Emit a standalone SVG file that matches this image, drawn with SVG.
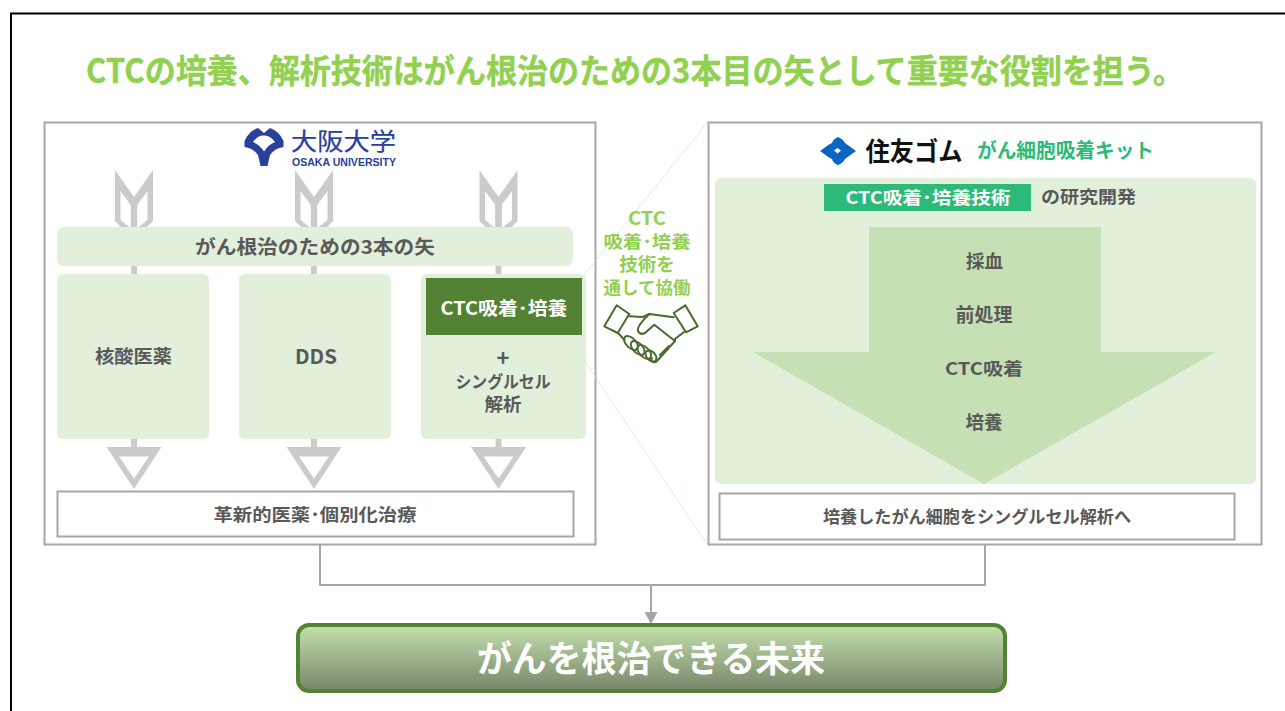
<svg xmlns="http://www.w3.org/2000/svg" width="1285" height="711" viewBox="0 0 1285 711">
<style>
text{font-family:"Noto Sans CJK JP","Noto Sans",sans-serif;font-weight:700;text-anchor:middle}
.d{fill:#595959}
.panel{fill:#fff;stroke:#a6a6a6;stroke-width:2}
.box{fill:#fff;stroke:#a6a6a6;stroke-width:2}
.lg{fill:#e2efda}
.tailbar{fill:#cbcbcb}
.conn{fill:none;stroke:#a6a6a6;stroke-width:2}
.zoomline{fill:none;stroke:#bfe8db;stroke-width:1;stroke-dasharray:2 1}
.hs{fill:none;stroke:#49692f;stroke-width:2;stroke-linejoin:round;stroke-linecap:round}
</style>
<defs>
<g id="arrowshaft">
<path class="tailbar" fill-rule="evenodd" d="M115 170L134 197L153 170V221L146 228H122L115 221ZM120.500 191V220L130.800 228V205ZM147.500 191L137.200 205V228L147.500 220Z"/>
<rect class="tailbar" x="131" y="205" width="6" height="69"/>
<rect class="tailbar" x="131" y="439" width="6" height="9"/>
<path class="tailbar" fill-rule="evenodd" d="M106.500 447H161.500L134 489ZM119 456.500L134 478.500L149 456.500Z"/>
</g>
</defs>
<rect width="1285" height="711" fill="#fff"/>
<path d="M11 711V13.500H1285" fill="none" stroke="#000" stroke-width="2"/>
<text id="title" x="635" y="83" font-size="33" fill="#92d050" stroke="#92d050" stroke-width="0.4" textLength="1098" lengthAdjust="spacingAndGlyphs">CTCの培養、解析技術はがん根治のための3本目の矢として重要な役割を担う。</text>

<g id="connectors">
<path class="conn" d="M320 545V585H985V545"/>
<path class="conn" d="M651 585V612"/>
<path d="M644.500 612H657.500L651 624Z" fill="#a6a6a6"/>
</g>

<g id="osaka-panel">
<rect class="panel" x="44.500" y="122.500" width="551" height="422"/>
<g id="osaka-logo">
<path fill-rule="evenodd" fill="#2b409b" d="M244.500 141Q249 131 258 128L264 133L270 128Q279 131 283.500 141V147Q275 148 270 155L267.500 166H260.500L258 155Q253 148 244.500 147ZM253 142Q258 135 264 135.500Q270 135 275 142Q268 145 264 151.500Q260 145 253 142Z"/>
<text x="343.500" y="149.500" font-size="24" fill="#2b409b" style="font-weight:400" stroke="#2b409b" stroke-width="0.2" textLength="105" lengthAdjust="spacingAndGlyphs">大阪大学</text>
<text x="344" y="165.500" font-size="11.500" fill="#2b409b" style="font-family:'Liberation Sans',sans-serif;font-weight:700" textLength="104" lengthAdjust="spacingAndGlyphs">OSAKA UNIVERSITY</text>
</g>
<use href="#arrowshaft"/>
<use href="#arrowshaft" x="180"/>
<use href="#arrowshaft" x="364.500"/>
</g>
<g id="arrows-bar">
<rect class="lg" x="57" y="227" width="516" height="39" rx="7"/>
<text class="d" x="315" y="254" font-size="19" textLength="240" lengthAdjust="spacingAndGlyphs">がん根治のための3本の矢</text>
</g>
<g id="node-nucleic">
<rect class="lg" x="57" y="274" width="152" height="165" rx="6"/>
<text class="d" x="133.500" y="363" font-size="18" textLength="77" lengthAdjust="spacingAndGlyphs">核酸医薬</text>
</g>
<g id="node-dds">
<rect class="lg" x="239" y="274" width="152" height="165" rx="6"/>
<text class="d" x="316" y="363.500" font-size="20" textLength="42" lengthAdjust="spacingAndGlyphs">DDS</text>
</g>
<g id="node-ctc">
<rect class="lg" x="421" y="274" width="165" height="165" rx="6"/>
<rect x="426" y="278" width="156" height="57" fill="#548235"/>
<text x="504" y="315" font-size="18.500" fill="#fff" textLength="127" lengthAdjust="spacingAndGlyphs">CTC吸着･培養</text>
<text class="d" x="503" y="366" font-size="22">+</text>
<text class="d" x="503" y="388" font-size="17" textLength="95" lengthAdjust="spacingAndGlyphs">シングルセル</text>
<text class="d" x="503" y="410.500" font-size="18.500">解析</text>
</g>
<g id="node-innovative">
<rect class="box" x="57.500" y="491.500" width="516" height="45"/>
<text class="d" x="315" y="521" font-size="17.500" textLength="203" lengthAdjust="spacingAndGlyphs">革新的医薬･個別化治療</text>
</g>

<g id="zoom-lines">
<path class="zoomline" d="M584 275L708 122"/>
<path class="zoomline" d="M584 360L707 544"/>
</g>

<g id="cooperate">
<text x="647" y="225" font-size="18" fill="#92d050" textLength="38" lengthAdjust="spacingAndGlyphs">CTC</text>
<text x="647" y="248" font-size="17.500" fill="#92d050" textLength="87" lengthAdjust="spacingAndGlyphs">吸着･培養</text>
<text x="647" y="271" font-size="18.500" fill="#92d050">技術を</text>
<text x="647" y="294" font-size="17.500" fill="#92d050" textLength="87" lengthAdjust="spacingAndGlyphs">通して協働</text>
<g id="handshake" class="hs">
<path d="M604.300 326.300L616.700 305.300L629.300 314L617.700 333Z"/>
<path d="M673.700 313L685.300 305.300L697.700 326.300L686 332.300Z"/>
<path d="M629.300 316.300L642.700 317L649.300 314L673.700 317.300"/>
<path d="M649.300 314C641 322 637 328 638 331C640 335 643 334 645 333L654.300 324.700L675 341"/>
<path d="M684 332L675 339V341L657 361C654 364 650 361 652 358"/>
<path d="M664 351L660 355M669 346L664 351"/>
<path d="M618 333L624.500 340"/>
<ellipse cx="631" cy="343" rx="8.500" ry="4.800" transform="rotate(45 631 343)"/>
<ellipse cx="637.700" cy="348" rx="8.500" ry="4.800" transform="rotate(45 637.700 348)"/>
<ellipse cx="644.300" cy="352" rx="8.500" ry="4.800" transform="rotate(45 644.300 352)"/>
<ellipse cx="651" cy="356" rx="6.500" ry="4.300" transform="rotate(45 651 356)"/>
</g>
</g>

<g id="sumitomo-panel">
<rect class="panel" x="708.500" y="122.500" width="553" height="422"/>
<g id="sumitomo-logo">
<path d="M820 151L829 144.500L832 143Q833 139 838 137Q843 139 845 143L847 144.500L856 151L847 157.500L845 159Q843 163 838 165Q833 163 832 159L829 157.500Z" fill="#0b66c3"/>
<path d="M837.500 148L841 150.500L837.500 153.500L834 150.500Z" fill="#fff"/>
<text x="914" y="161" font-size="26" fill="#111" textLength="97" lengthAdjust="spacingAndGlyphs">住友ゴム</text>
<text x="1065.500" y="158" font-size="20" fill="#2dba78" textLength="177" lengthAdjust="spacingAndGlyphs">がん細胞吸着キット</text>
</g>
<rect class="lg" x="715" y="178" width="541" height="306" rx="6"/>
<rect x="824" y="184" width="207" height="27" fill="#2dba78"/>
<text x="928" y="203.500" font-size="17.500" fill="#fff" textLength="165" lengthAdjust="spacingAndGlyphs">CTC吸着･培養技術</text>
<text class="d" x="1088.500" y="203" font-size="17.500" textLength="95" lengthAdjust="spacingAndGlyphs">の研究開発</text>
<path d="M869 227H1101V352H1216L984 484L753 352H869Z" fill="#c5e0b4"/>
<text class="d" x="984.500" y="268" font-size="18.500">採血</text>
<text class="d" x="984" y="321.500" font-size="19">前処理</text>
<text class="d" x="984" y="375" font-size="17.500" textLength="78" lengthAdjust="spacingAndGlyphs">CTC吸着</text>
<text class="d" x="984" y="429" font-size="18.500">培養</text>
</g>
<g id="node-singlecell">
<rect class="box" x="719.500" y="493.500" width="515" height="46"/>
<text class="d" x="977" y="523" font-size="17.500" textLength="308" lengthAdjust="spacingAndGlyphs">培養したがん細胞をシングルセル解析へ</text>
</g>

<g id="node-future">
<rect x="298" y="625" width="707" height="66" rx="11" fill="url(#g)" stroke="#548235" stroke-width="4"/>
<text x="651" y="672" font-size="36" fill="#fff" textLength="348" lengthAdjust="spacingAndGlyphs">がんを根治できる未来</text>
</g>
<defs><linearGradient id="g" x1="0" y1="0" x2="0" y2="1"><stop offset="0.05" stop-color="#c0dcaa"/><stop offset="0.95" stop-color="#7a8a6c"/></linearGradient></defs>
</svg>
